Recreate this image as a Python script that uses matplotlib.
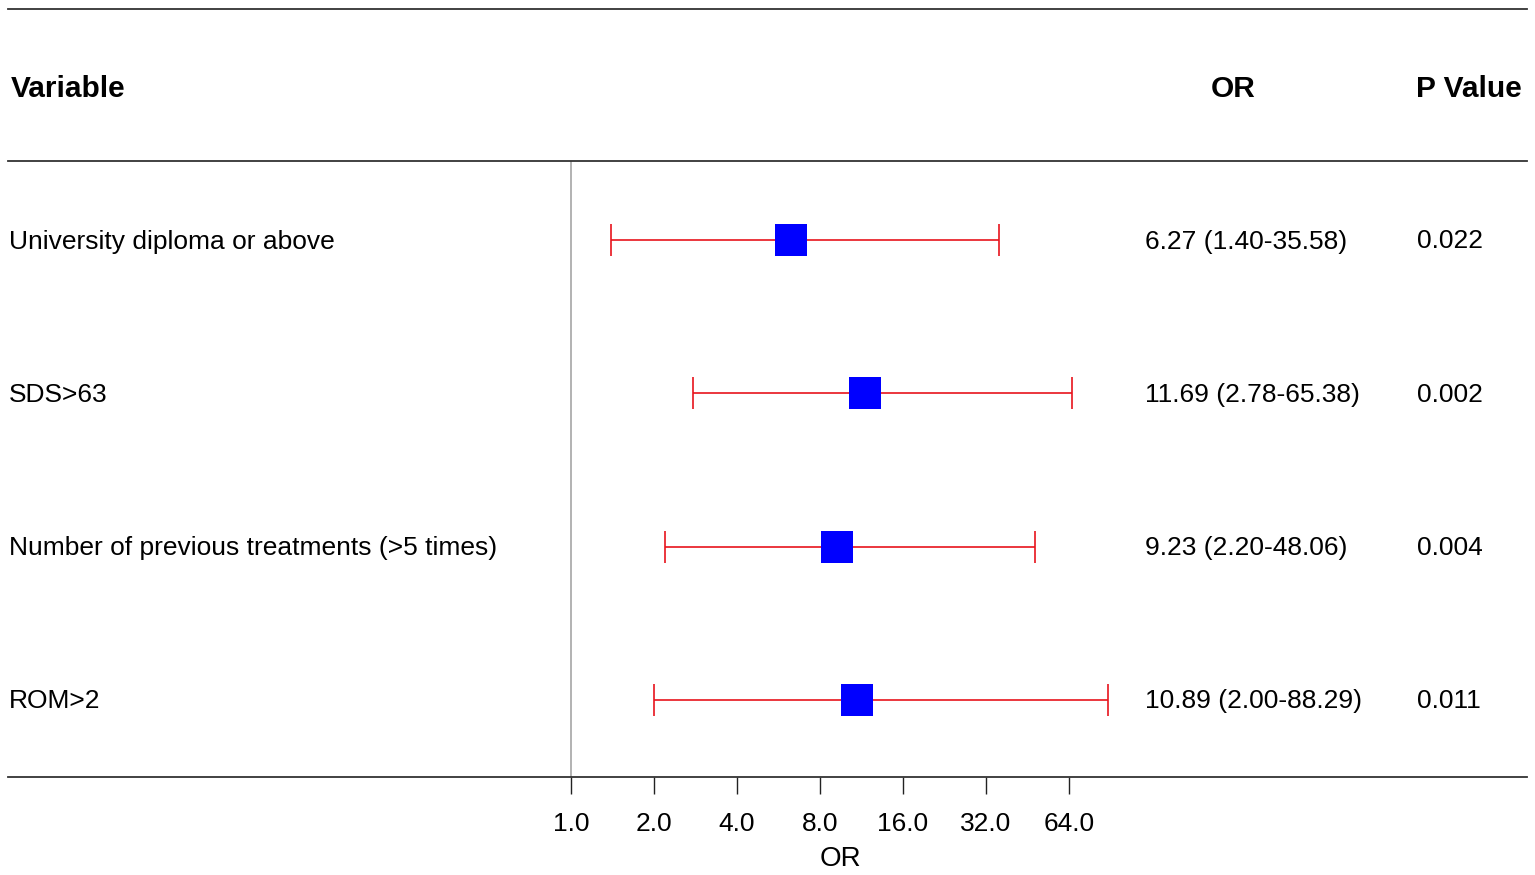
import matplotlib
matplotlib.use("Agg")
import matplotlib.pyplot as plt
from matplotlib.lines import Line2D
import numpy as np

plt.rcParams['font.family'] = ['Liberation Sans', 'DejaVu Sans']

# data
variables = ["University diploma or above", "SDS>63",
             "Number of previous treatments (>5 times)", "ROM>2"]
odds = [6.27, 11.69, 9.23, 10.89]
lower = [1.40, 2.78, 2.20, 2.00]
upper = [35.58, 65.38, 48.06, 88.29]
p_values = ["0.022", "0.002", "0.004", "0.011"]
ticks = [1, 2, 4, 8, 16, 32, 64]

W, H = 1535, 875
fig = plt.figure(figsize=(W / 100, H / 100), dpi=100)

# axis spans whole table width; x mapped so that 1.0 -> px 571, 64 -> px 1069
px_per_dbl = (1069 - 571) / 6.0
x0, x1 = 8, 1527
ax = fig.add_axes([x0 / W, (H - 777) / H, (x1 - x0) / W, (777 - 161) / H])
ax.set_xscale('log', base=2)
ax.set_xlim(2 ** ((x0 - 571) / px_per_dbl), 2 ** ((x1 - 571) / px_per_dbl))
row_px = 153.3
ax.set_ylim((777 - 240) / row_px, (161 - 240) / row_px)

ax.axvline(1, color='#a6a6a6', lw=1.2, zorder=0)

y = np.arange(len(variables))
o = np.array(odds)
err = [o - np.array(lower), np.array(upper) - o]
ax.errorbar(o, y, xerr=err, fmt='none', ecolor='#e8141c', elinewidth=1.2,
            capsize=11.5, capthick=1.2, zorder=2)
ax.plot(o, y, 's', color='#0000ff', markersize=23, markeredgewidth=0, zorder=3)

ax.set_xticks(ticks)
ax.set_xticklabels(["%.1f" % t for t in ticks])
ax.minorticks_off()
ax.tick_params(axis='x', direction='out', length=12, width=1.0, pad=13,
               labelsize=19, color='#222222')
ax.set_yticks([])
ax.set_xlabel("OR", fontsize=20)
ax.xaxis.set_label_coords((840 - x0) / (x1 - x0), -(859 - 777) / (777 - 161))
ax.xaxis.label.set_va('center')
for s in ['left', 'right']:
    ax.spines[s].set_visible(False)
for s in ['top', 'bottom']:
    ax.spines[s].set_color('#333333')
    ax.spines[s].set_linewidth(1.3)

# table text
tr = ax.get_yaxis_transform()
for i, name in enumerate(variables):
    yy = i + 1.5 / row_px
    ax.text((9 - x0) / (x1 - x0), yy, name, transform=tr,
            ha='left', va='center', fontsize=19)
    ax.text((1145 - x0) / (x1 - x0), yy, "%.2f (%.2f-%.2f)" % (odds[i], lower[i], upper[i]),
            transform=tr, ha='left', va='center', fontsize=19)
    ax.text((1417 - x0) / (x1 - x0), yy, p_values[i],
            transform=tr, ha='left', va='center', fontsize=19)

# header
hy = 1 - 89 / H
fig.text(11 / W, hy, "Variable", fontsize=21.5, fontweight='bold', ha='left', va='center')
fig.text(1233 / W, hy, "OR", fontsize=21.5, fontweight='bold', ha='center', va='center')
fig.text(1522 / W, hy, "P Value", fontsize=21.5, fontweight='bold', ha='right', va='center')
fig.add_artist(Line2D([x0 / W, x1 / W], [1 - 9 / H, 1 - 9 / H], color='#333333', lw=1.3))

fig.savefig("out.png", dpi=100, facecolor='white')
